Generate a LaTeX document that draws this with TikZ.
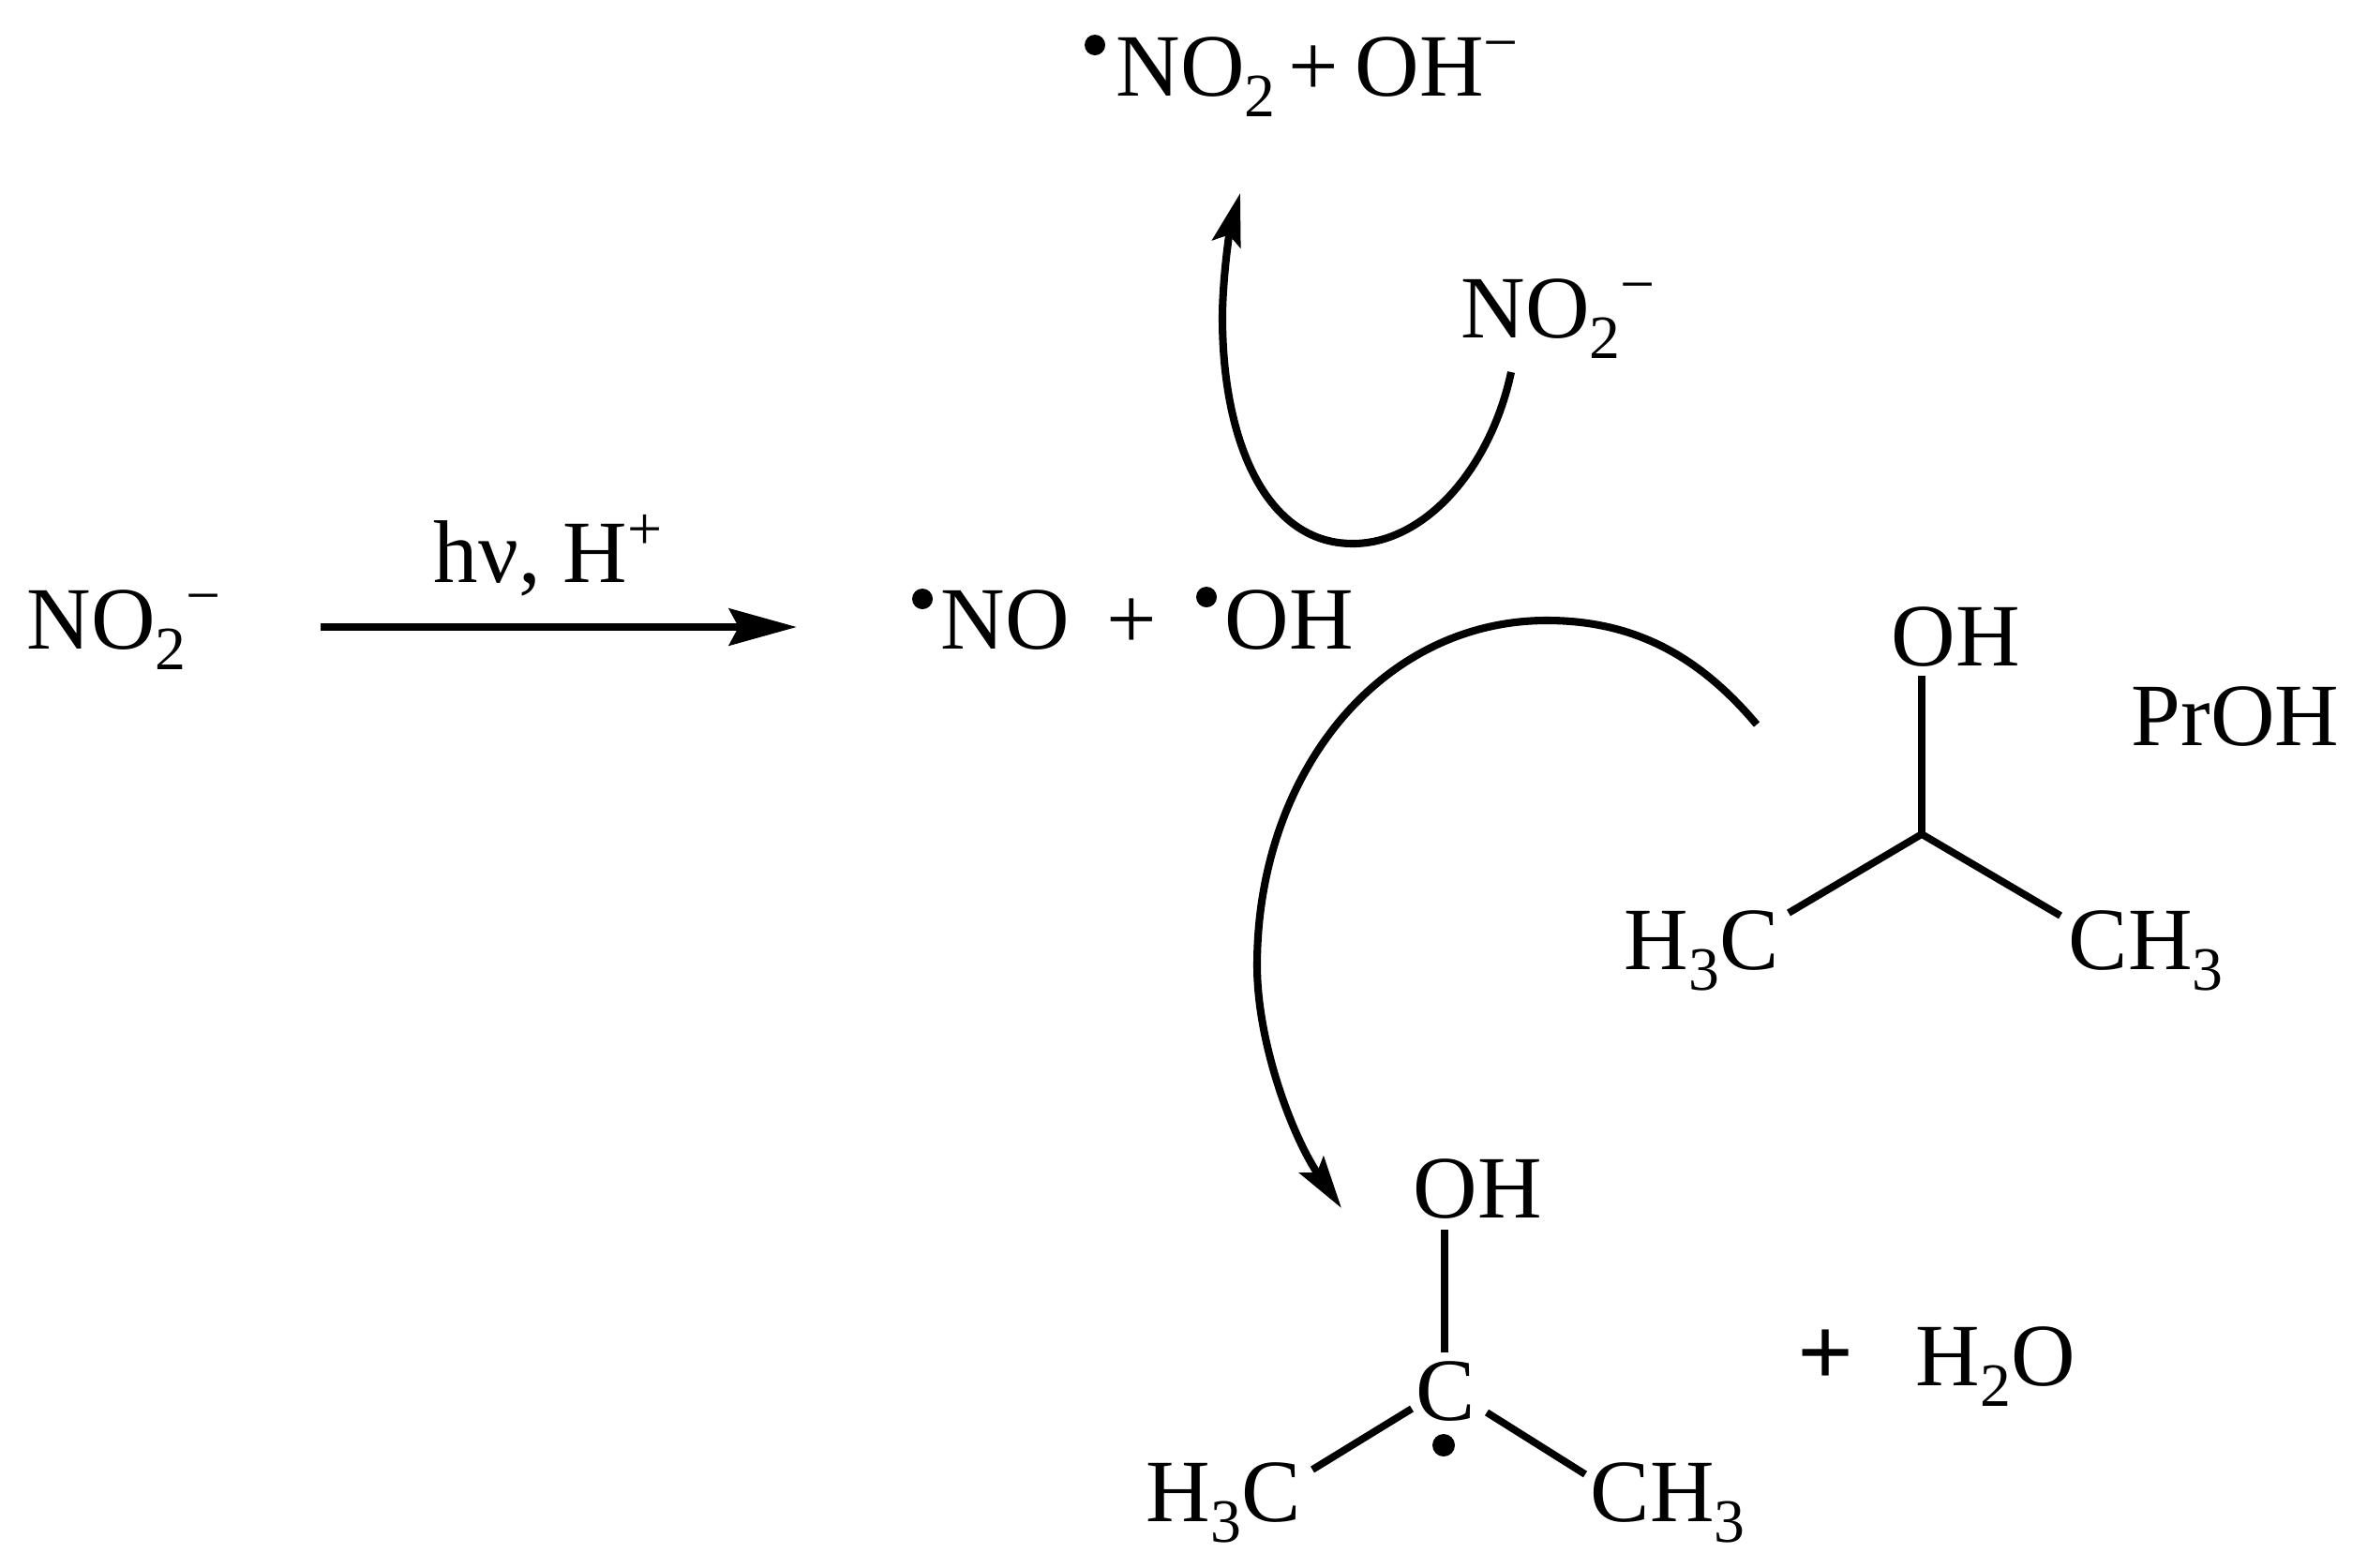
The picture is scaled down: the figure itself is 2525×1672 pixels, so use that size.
\documentclass[tikz,border=0pt]{standalone}
\usepackage{fontspec}
\setmainfont{Liberation Serif}
\usetikzlibrary{arrows.meta}
\newcommand{\lowr}[1]{\raisebox{-.24em}{\fontsize{18.7}{20}\selectfont #1}}
\newcommand{\highr}[1]{\raisebox{.36em}{\fontsize{18.7}{20}\selectfont #1}}
\tikzset{
    chem/.style={anchor=base west,inner sep=0pt,font=\fontsize{27}{30}\selectfont},
    bond/.style={line width=2.2pt},
    rxn/.style={line width=2.5pt,-{Stealth[length=7.2mm,width=3.9mm,inset=1mm]}},
    swoop/.style={line width=2.3pt,-{Stealth[length=5.6mm,width=3.1mm,inset=1mm]}},
}
\begin{document}
\begin{tikzpicture}[x=0.01cm,y=-0.01cm]
        \useasboundingbox (0,0) rectangle (2525,1672);
        % reaction on the left
        \node[chem] (nitrite) at (28,692) {NO\lowr{2}\highr{−}};
        \node[chem] (light) at (462,621) {hν, H\highr{+}};
        \node[chem] (noradical) at (1003,692) {NO};
        \node[chem] (plusa) at (1180,692) {+};
        \node[chem] (ohradical) at (1306,692) {OH};
        \coordinate (rxnstart) at (342,669);
        \coordinate (rxnend) at (850,669);
        \coordinate (dotno) at (984,639);
        \coordinate (dotoh) at (1287,637);
        \fill[black] (dotno) circle (11);
        \fill[black] (dotoh) circle (11);
        \draw[rxn] (rxnstart) -- (rxnend);
        % upper branch
        \node[chem] (dioxide) at (1190,102) {NO\lowr{2}};
        \node[chem] (plusb) at (1374,102) {+};
        \node[chem] (hydroxide) at (1445,102) {OH\highr{−}};
        \node[chem] (nitriteb) at (1558,360) {NO\lowr{2}\highr{−}};
        \coordinate (dotdioxide) at (1168,48);
        \coordinate (swoopatail) at (1612,397);
        \coordinate (swoopahead) at (1323,206);
        \fill[black] (dotdioxide) circle (11);
        \draw[swoop] (swoopatail) .. controls (1590,500) and (1520,580) .. (1443,580)
            .. controls (1350,580) and (1304,470) .. (1304,339)
            .. controls (1304,300) and (1311,250) .. (swoopahead);
        % propanol
        \node[chem] (ohpr) at (2017,710) {OH};
        \node[chem] (propanol) at (2273,795) {PrOH};
        \node[chem] (methpl) at (1732,1034) {H\lowr{3}C};
        \node[chem] (methpr) at (2206,1034) {CH\lowr{3}};
        \coordinate (centerpr) at (2050,890);
        \coordinate (ohprfoot) at (2050,721);
        \coordinate (methplend) at (1908,974);
        \coordinate (methprend) at (2198,977);
        \draw[bond] (ohprfoot) -- (centerpr);
        \draw[bond] (methplend) -- (centerpr) -- (methprend);
        \coordinate (swoopbtail) at (1874,773);
        \coordinate (swoopbhead) at (1431,1289);
        \draw[swoop] (swoopbtail) .. controls (1810,697) and (1740,662) .. (1650,662)
            .. controls (1473,662) and (1341,825) .. (1341,1030)
            .. controls (1341,1115) and (1380,1215) .. (swoopbhead);
        % radical product
        \node[chem] (ohrad) at (1507,1299) {OH};
        \node[chem] (crad) at (1510,1515) {C};
        \node[chem] (methrl) at (1222,1623) {H\lowr{3}C};
        \node[chem] (methrr) at (1696,1623) {CH\lowr{3}};
        \node[chem,font=\fontsize{30}{32}\selectfont\bfseries] (plusc) at (1917,1478) {+};
        \node[chem] (water) at (2043,1478) {H\lowr{2}O};
        \coordinate (ohradfoot) at (1541,1312);
        \coordinate (cradtop) at (1541,1443);
        \coordinate (cradl) at (1506,1503);
        \coordinate (cradr) at (1586,1507);
        \coordinate (methrlend) at (1400,1568);
        \coordinate (methrrend) at (1691,1573);
        \coordinate (dotc) at (1540,1542);
        \fill[black] (dotc) circle (12);
        \draw[bond] (ohradfoot) -- (cradtop);
        \draw[bond] (cradl) -- (methrlend);
        \draw[bond] (cradr) -- (methrrend);
    \end{tikzpicture}
\end{document}
